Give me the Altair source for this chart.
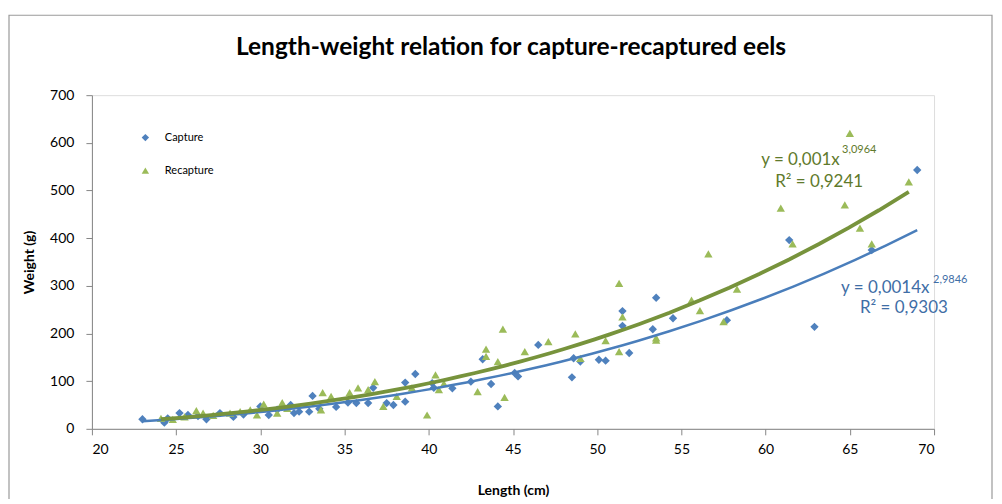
import altair as alt
import pandas as pd

# ---- data ----
capture_len = [23.0, 24.3, 24.5, 25.2, 25.7, 26.3, 26.8, 27.6, 28.4, 29.0, 30.0, 30.5, 31.0, 31.8,
               32.0, 32.3, 32.9, 33.1, 33.5, 34.5, 35.2, 35.7, 36.4, 36.7, 37.5, 37.9, 38.6, 38.6,
               39.2, 40.2, 40.3, 41.4, 42.5, 43.2, 43.7, 44.1, 45.1, 45.3, 46.5, 48.5, 48.6, 49.0,
               50.1, 50.5, 51.5, 51.5, 51.9, 53.3, 53.5, 54.5, 57.7, 61.4, 62.9, 66.3, 69.0]
capture_wt = [20, 13, 22, 33, 29, 27, 20, 33, 25, 30, 47, 29, 40, 50,
              33, 36, 36, 69, 42, 46, 55, 54, 54, 86, 54, 50, 57, 97,
              115, 96, 86, 85, 99, 146, 94, 47, 117, 110, 176, 108, 148, 141,
              145, 143, 247, 216, 159, 209, 275, 232, 228, 396, 214, 375, 543]

recap_len = [24.1, 24.8, 25.5, 26.2, 26.6, 27.2, 28.2, 28.8, 29.4, 29.8, 30.2, 31.0, 31.3, 31.6,
             33.6, 33.7, 34.2, 35.3, 35.8, 36.4, 36.8, 37.3, 38.1, 39.0, 39.9, 40.4, 40.6, 40.9,
             42.9, 43.4, 43.4, 44.1, 44.4, 44.5, 45.7, 47.1, 48.7, 49.0, 50.5, 51.3, 51.3, 51.5,
             53.5, 53.5, 55.6, 56.1, 56.6, 57.5, 58.3, 60.9, 61.6, 64.7, 65.0, 65.6, 66.3, 68.5]
recap_wt = [22, 20, 25, 38, 33, 28, 33, 36, 40, 29, 52, 33, 55, 43,
            40, 76, 68, 76, 86, 82, 99, 47, 68, 86, 29, 113, 82, 95,
            78, 167, 152, 141, 209, 66, 162, 183, 199, 148, 185, 305, 162, 235,
            186, 191, 270, 248, 367, 225, 293, 463, 388, 470, 620, 421, 388, 518]

series_names = ["Capture", "Recapture"]
x_ticks = [20, 25, 30, 35, 40, 45, 50, 55, 60, 65, 70]
y_ticks = [0, 100, 200, 300, 400, 500, 600, 700]
chart_title = "Length-weight relation for capture-recaptured eels"

eq_text = ["y = 0,001x", "3,0964", "R² = 0,9241", "y = 0,0014x", "2,9846", "R² = 0,9303"]
eq_series = ["Recapture", "Recapture", "Recapture", "Capture", "Capture", "Capture"]
eq_x = [59.74, 64.54, 60.57, 64.48, 69.94, 65.6]
eq_y = [564, 584, 518, 296, 313, 254]
eq_size = [17, 11, 17, 17, 11, 17]

FONT = "Lato"
BLUE_PT = "#4F81BD"
GREEN_PT = "#9BBB59"
BLUE_LN = "#4A7EBB"
GREEN_LN = "#77933C"

df = pd.DataFrame({
    "Length": capture_len + recap_len,
    "Weight": capture_wt + recap_wt,
    "Series": ["Capture"] * len(capture_len) + ["Recapture"] * len(recap_len),
})
eq_df = pd.DataFrame({"text": eq_text, "Series": eq_series, "x": eq_x, "y": eq_y, "size": eq_size})

W, H = 843, 334

xs = alt.Scale(domain=[20, 70], nice=False, zero=False)
ys = alt.Scale(domain=[0, 700], nice=False)

x_enc = alt.X("Length:Q", scale=xs, axis=alt.Axis(
    values=x_ticks, title="Length (cm)", grid=False, domainColor="#868686", tickColor="#868686",
    tickSize=6, labelFont=FONT, labelFontSize=14, labelColor="#000000", labelPadding=8,
    titleFont=FONT, titleFontSize=14, titleFontWeight="bold", titleColor="#000000",
    titleY=62, titleBaseline="middle", zindex=2))
y_enc = alt.Y("Weight:Q", scale=ys, axis=alt.Axis(
    values=y_ticks, title="Weight (g)", grid=False, domainColor="#868686", tickColor="#868686",
    tickSize=6, labelFont=FONT, labelFontSize=14, labelColor="#000000", labelPadding=12,
    titleFont=FONT, titleFontSize=14, titleFontWeight="bold", titleColor="#000000",
    titleX=-62, titleY=H / 2, titleAngle=-90, titleAlign="center", titleBaseline="middle",
    zindex=2))

one = pd.DataFrame({"t": [chart_title]})

frame = alt.Chart(one).mark_rect(
    fillOpacity=0, stroke="#9a9a9a", strokeWidth=1.2).encode(
    x=alt.value(-83), x2=alt.value(W + 58), y=alt.value(-80), y2=alt.value(H + 120))

title_mark = alt.Chart(one).mark_text(
    font=FONT, fontSize=24.5, fontWeight="bold", color="#000000", align="center",
    baseline="middle").encode(text="t:N", x=alt.value(W / 2 - 2), y=alt.value(-47))

leg = dict(title=None, orient="none", legendX=48, legendY=37,
           labelFont=FONT, labelFontSize=11, labelColor="#000000",
           rowPadding=21, symbolSize=55, labelOffset=14)

points = alt.Chart(df).mark_point(filled=True, opacity=1, size=70).encode(
    x=x_enc, y=y_enc,
    color=alt.Color("Series:N", scale=alt.Scale(domain=series_names, range=[BLUE_PT, GREEN_PT]),
                    legend=alt.Legend(**leg)),
    shape=alt.Shape("Series:N", scale=alt.Scale(domain=series_names, range=["diamond", "triangle-up"]),
                    legend=alt.Legend(**leg)),
    order=alt.Order("Series:N"),
)

def trend(name, color, width):
    return alt.Chart(df).transform_filter(alt.datum.Series == name).transform_regression(
        "Length", "Weight", method="pow").mark_line(color=color, strokeWidth=width).encode(
        x=alt.X("Length:Q", scale=xs), y=alt.Y("Weight:Q", scale=ys))

trend_c = trend("Capture", BLUE_LN, 2.5)
trend_r = trend("Recapture", GREEN_LN, 3.8)

eq_layer = alt.Chart(eq_df).mark_text(align="left", baseline="middle", font=FONT).encode(
    x=alt.X("x:Q", scale=xs), y=alt.Y("y:Q", scale=ys), text="text:N",
    size=alt.Size("size:Q", scale=None, legend=None),
    color=alt.Color("Series:N", scale=alt.Scale(domain=series_names, range=["#3F6EA6", "#5F7A2C"]),
                    legend=None),
)

chart = alt.layer(frame, title_mark, points, trend_c, trend_r, eq_layer).resolve_scale(
    color="independent", shape="independent").properties(
    width=W, height=H,
    autosize=alt.AutoSizeParams(type="none"),
    padding={"left": 84, "top": 87, "right": 60, "bottom": 70},
).configure_view(stroke=None).configure(background="white")

chart.save("out.html", embed_options={"renderer": "svg", "actions": False})
